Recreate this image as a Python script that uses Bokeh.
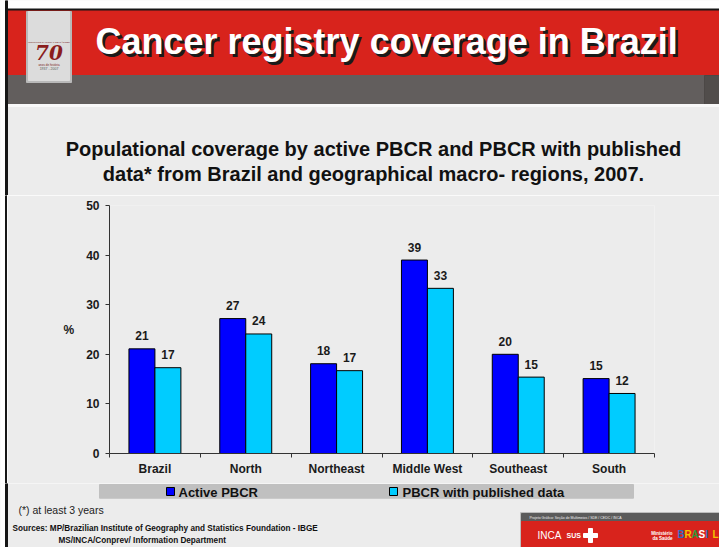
from bokeh.plotting import figure
from bokeh.layouts import column, row
from bokeh.models import Range1d, FixedTicker, ColumnDataSource
from bokeh.transform import dodge
from bokeh.core.properties import value
from bokeh.embed import file_html
from bokeh.resources import INLINE

# ---------------- data ----------------
title = "Cancer registry coverage in Brazil"
subtitle = ["Populational coverage by active PBCR and PBCR with published",
            "data* from Brazil and geographical macro- regions, 2007."]
categories = ["Brazil", "North", "Northeast", "Middle West", "Southeast", "South"]
active = [21.1, 27.2, 18.1, 39.0, 20.0, 15.1]
published = [17.3, 24.1, 16.7, 33.3, 15.4, 12.1]
series_names = ["Active PBCR", "PBCR with published data"]
series_colors = ["#0000ff", "#00ccff"]
y_ticks = [0, 10, 20, 30, 40, 50]
y_label = "%"
footnote = "(*) at least 3 years"
sources = ["Sources: MP/Brazilian Institute of Geography and Statistics Foundation  - IBGE",
           "MS/INCA/Conprev/ Information Department"]

# ---------------- styling ----------------
W = 719
STRIP = 7
H_HEAD, H_CHART, H_FOOT = 195, 288, 64
BG = "#ececec"
RED = "#d8231c"
FONT = "Liberation Sans"


def no_align(f):
    if "frame_align" in f.properties():
        f.frame_align = False
    return f


def blank(w, h):
    f = figure(width=w, height=h, x_range=Range1d(0, w), y_range=Range1d(h, 0),
               output_backend="svg", toolbar_location=None,
               x_axis_location=None, y_axis_location=None, min_border=0)
    f.grid.visible = False
    f.outline_line_color = None
    f.background_fill_color = BG
    f.border_fill_color = BG
    return no_align(f)


def left_edge(f, h):
    f.quad(left=[0], right=[5], top=[0], bottom=[h], color="#ffffff")
    f.quad(left=[5], right=[7], top=[0], bottom=[h], color="#161616")


# ---------------- header ----------------
head = blank(W, H_HEAD)
head.quad(left=[0], right=[W], top=[0], bottom=[8.5], color="#ffffff")
head.quad(left=[5], right=[W], top=[8.5], bottom=[10.5], color="#161616")
head.quad(left=[7], right=[W], top=[10.5], bottom=[75], color=RED)
head.quad(left=[7], right=[W], top=[75], bottom=[104], color="#625e5d")
head.quad(left=[704], right=[W], top=[75], bottom=[104], color="#3f3b3a", alpha=0.5)
head.quad(left=[7], right=[W], top=[104], bottom=[106], color="#f8f8f8")
left_edge(head, H_HEAD)
head.quad(left=[5], right=[7], top=[8.5], bottom=[H_HEAD], color="#161616")
# anniversary badge
head.quad(left=[26], right=[71], top=[11], bottom=[82], color="#b9b9b9")
head.quad(left=[28], right=[69], top=[11], bottom=[80], color="#dcdcdc")
head.text(x=[48.5], y=[42], text=["INSTITUTO NACIONAL DE CÂNCER"], text_align="center",
          text_baseline="middle", text_font_size="2.5px", text_color="#7a1f1f",
          text_font=value(FONT))
head.text(x=[48.5], y=[52], text=["70"], text_align="center", text_baseline="middle",
          text_font_size="20px", text_font_style="bold italic", text_color="#8a1c1c",
          text_font=value("DejaVu Serif"))
head.text(x=[48.5], y=[64], text=["anos de história"], text_align="center",
          text_baseline="middle", text_font_size="3px", text_color="#7a1f1f",
          text_font=value(FONT))
head.text(x=[48.5], y=[68.5], text=["1937 - 2007"], text_align="center",
          text_baseline="middle", text_font_size="3.5px", text_color="#555555",
          text_font=value(FONT))
# title with shadow
head.text(x=[97.5], y=[43.5], text=[title], text_align="left", text_baseline="middle",
          text_font=value(FONT), text_font_style="bold", text_font_size="36px",
          text_color="#1a1a1a")
head.text(x=[95], y=[41], text=[title], text_align="left", text_baseline="middle",
          text_font=value(FONT), text_font_style="bold", text_font_size="36px",
          text_color="#ffffff")
head.text(x=[373, 373], y=[148, 173], text=subtitle, text_align="center",
          text_baseline="middle", text_font=value(FONT), text_font_style="bold",
          text_font_size="20px", text_color="#111111")

# ---------------- chart ----------------
n = len(categories)
xc = [i + 0.5 for i in range(n)]
src = ColumnDataSource(dict(
    xc=xc, active=active, published=published,
    active_lbl=[f"{v:.0f}" for v in active],
    pub_lbl=[f"{v:.0f}" for v in published],
))

strip = blank(STRIP, H_CHART)
left_edge(strip, H_CHART)

p = figure(width=W - STRIP, height=H_CHART, x_range=Range1d(0, n), y_range=Range1d(0, 50),
           output_backend="svg", toolbar_location=None,
           min_border_left=109 - STRIP, min_border_right=W - 654, min_border_top=10,
           min_border_bottom=30)
no_align(p)
p.grid.visible = False
p.outline_line_color = None
p.background_fill_color = BG
p.border_fill_color = BG

BW = 0.286
OFF = 0.143
p.vbar(x=dodge("xc", -OFF), top="active", width=BW, source=src,
       fill_color=series_colors[0], line_color="#000000", line_width=1)
p.vbar(x=dodge("xc", OFF), top="published", width=BW, source=src,
       fill_color=series_colors[1], line_color="#000000", line_width=1)
lbl_kw = dict(text_align="center", text_baseline="middle", y_offset=-13,
              text_font=value(FONT), text_font_style="bold", text_font_size="12px",
              text_color="#1a1a1a", source=src)
p.text(x=dodge("xc", -OFF), y="active", text="active_lbl", **lbl_kw)
p.text(x=dodge("xc", OFF), y="published", text="pub_lbl", **lbl_kw)

ya = p.yaxis[0]
ya.ticker = FixedTicker(ticks=y_ticks)
ya.major_tick_out = 4
ya.major_tick_in = 0
ya.minor_tick_line_color = None
ya.major_label_standoff = 6
ya.axis_line_color = "#333333"
ya.major_tick_line_color = "#333333"
ya.major_label_text_font = FONT
ya.major_label_text_font_style = "bold"
ya.major_label_text_font_size = "12px"
ya.major_label_text_color = "#1a1a1a"
ya.axis_label = y_label
ya.axis_label_text_font = FONT
ya.axis_label_text_font_style = "bold"
ya.axis_label_text_font_size = "12px"
ya.axis_label_text_color = "#1a1a1a"
ya.axis_label_standoff = 9
if "axis_label_orientation" in ya.properties():
    ya.axis_label_orientation = "horizontal"

xa = p.xaxis[0]
overrides = {}
for x, c in zip(xc, categories):
    overrides[x] = c
    overrides[str(x)] = c
xa.ticker = FixedTicker(ticks=xc, minor_ticks=list(range(n + 1)))
xa.major_label_overrides = overrides
xa.major_tick_line_color = None
xa.major_tick_out = 0
xa.major_tick_in = 0
xa.minor_tick_out = 4
xa.minor_tick_in = 0
xa.minor_tick_line_color = "#333333"
xa.axis_line_color = "#333333"
xa.major_label_standoff = 4
xa.major_label_text_font = FONT
xa.major_label_text_font_style = "bold"
xa.major_label_text_font_size = "12px"
xa.major_label_text_color = "#1a1a1a"

# ---------------- footer ----------------
foot = blank(W, H_FOOT)
left_edge(foot, H_FOOT)
foot.quad(left=[99], right=[633], top=[1], bottom=[14.7], color="#c0c0c0")
leg_sq_x = [166, 389]
leg_txt_x = [178, 402]
for sx, tx, name, col in zip(leg_sq_x, leg_txt_x, series_names, series_colors):
    foot.quad(left=[sx], right=[sx + 8], top=[4], bottom=[12], fill_color=col,
              line_color="#000000", line_width=1)
    foot.text(x=[tx], y=[8.5], text=[name], text_baseline="middle", text_align="left",
              text_font=value(FONT), text_font_style="bold", text_font_size="13px",
              text_color="#111111")
foot.text(x=[18], y=[26], text=[footnote], text_baseline="middle", text_font=value(FONT),
          text_font_size="10.5px", text_color="#222222")
foot.text(x=[12, 58], y=[45, 57], text=sources, text_baseline="middle",
          text_font=value(FONT), text_font_style="bold", text_font_size="8.2px",
          text_color="#111111")
# institutional logo strip
foot.quad(left=[520], right=[W], top=[29], bottom=[H_FOOT], color="#bdbdbd")
foot.quad(left=[521], right=[W], top=[30], bottom=[38], color="#5b5b5b")
foot.quad(left=[521], right=[W], top=[38], bottom=[H_FOOT], color=RED)
foot.text(x=[529], y=[34], text=["Projeto Gráfico: Seção de Multimeios / SDE / CEDC / INCA"],
          text_baseline="middle", text_font=value(FONT), text_font_size="3.5px",
          text_color="#eeeeee")
foot.text(x=[537], y=[52], text=["INCA"], text_baseline="middle", text_font=value(FONT),
          text_font_size="10px", text_color="#ffffff")
foot.text(x=[566], y=[52], text=["SUS"], text_baseline="middle", text_font=value(FONT),
          text_font_style="bold", text_font_size="7px", text_color="#ffffff")
foot.quad(left=[588], right=[592], top=[45], bottom=[59], color="#ffffff")
foot.quad(left=[583], right=[597], top=[50], bottom=[54], color="#ffffff")
foot.text(x=[672, 672], y=[50, 55], text=["Ministério", "da Saúde"], text_align="right",
          text_baseline="middle", text_font=value(FONT), text_font_style="bold",
          text_font_size="4.5px", text_color="#ffffff")
brasil = ["B", "R", "A", "S", "I", "L"]
brasil_cols = ["#2d6cc0", "#f2c500", "#2e9b3a", "#ffffff", "#2d6cc0", "#f2c500"]
for i, (ch, col) in enumerate(zip(brasil, brasil_cols)):
    foot.text(x=[677 + i * 7], y=[51], text=[ch], text_align="left", text_baseline="middle",
              text_font=value(FONT), text_font_style="bold", text_font_size="10px",
              text_color=col)

layout = column(head, row(strip, p, spacing=0), foot, spacing=0)
open("out.html", "w").write(file_html(layout, INLINE))
